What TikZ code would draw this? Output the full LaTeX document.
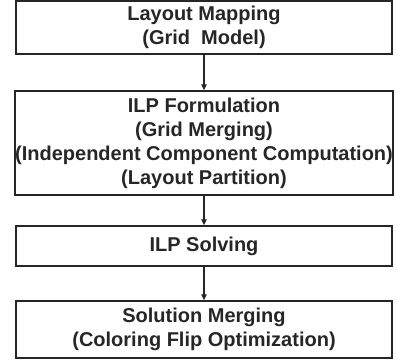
\documentclass[tikz,border=0pt]{standalone}
\usepackage{fontspec}
\setmainfont{Liberation Sans}
\usetikzlibrary{arrows.meta}
\begin{document}
\begin{tikzpicture}[x=1pt,y=-1pt,
  stage/.style={draw=black!85, line width=1.4pt, minimum width=376pt, inner sep=0pt,
    align=center, font=\bfseries\fontsize{20}{24}\selectfont, text=black!85},
  flow/.style={line width=1.2pt, draw=black!85, -{Triangle[length=6pt,width=5.5pt]}}]
  \useasboundingbox (0,0) rectangle (396,362);
  \node[stage, minimum height=53pt] (map) at (204,27.5) {Layout Mapping\\(Grid~~Model)};
  \node[stage, minimum height=104pt] (ilp) at (204,143)
    {ILP Formulation\\(Grid Merging)\\(Independent Component Computation)\\(Layout Partition)};
  \node[stage, minimum height=40pt] (solve) at (204,246) {ILP Solving};
  \node[stage, minimum height=57pt] (merge) at (204,329.5) {Solution Merging\\(Coloring Flip Optimization)};
  \draw[flow] (map.south) -- (ilp.north);
  \draw[flow] (ilp.south) -- (solve.north);
  \draw[flow] (solve.south) -- (merge.north);
\end{tikzpicture}
\end{document}
